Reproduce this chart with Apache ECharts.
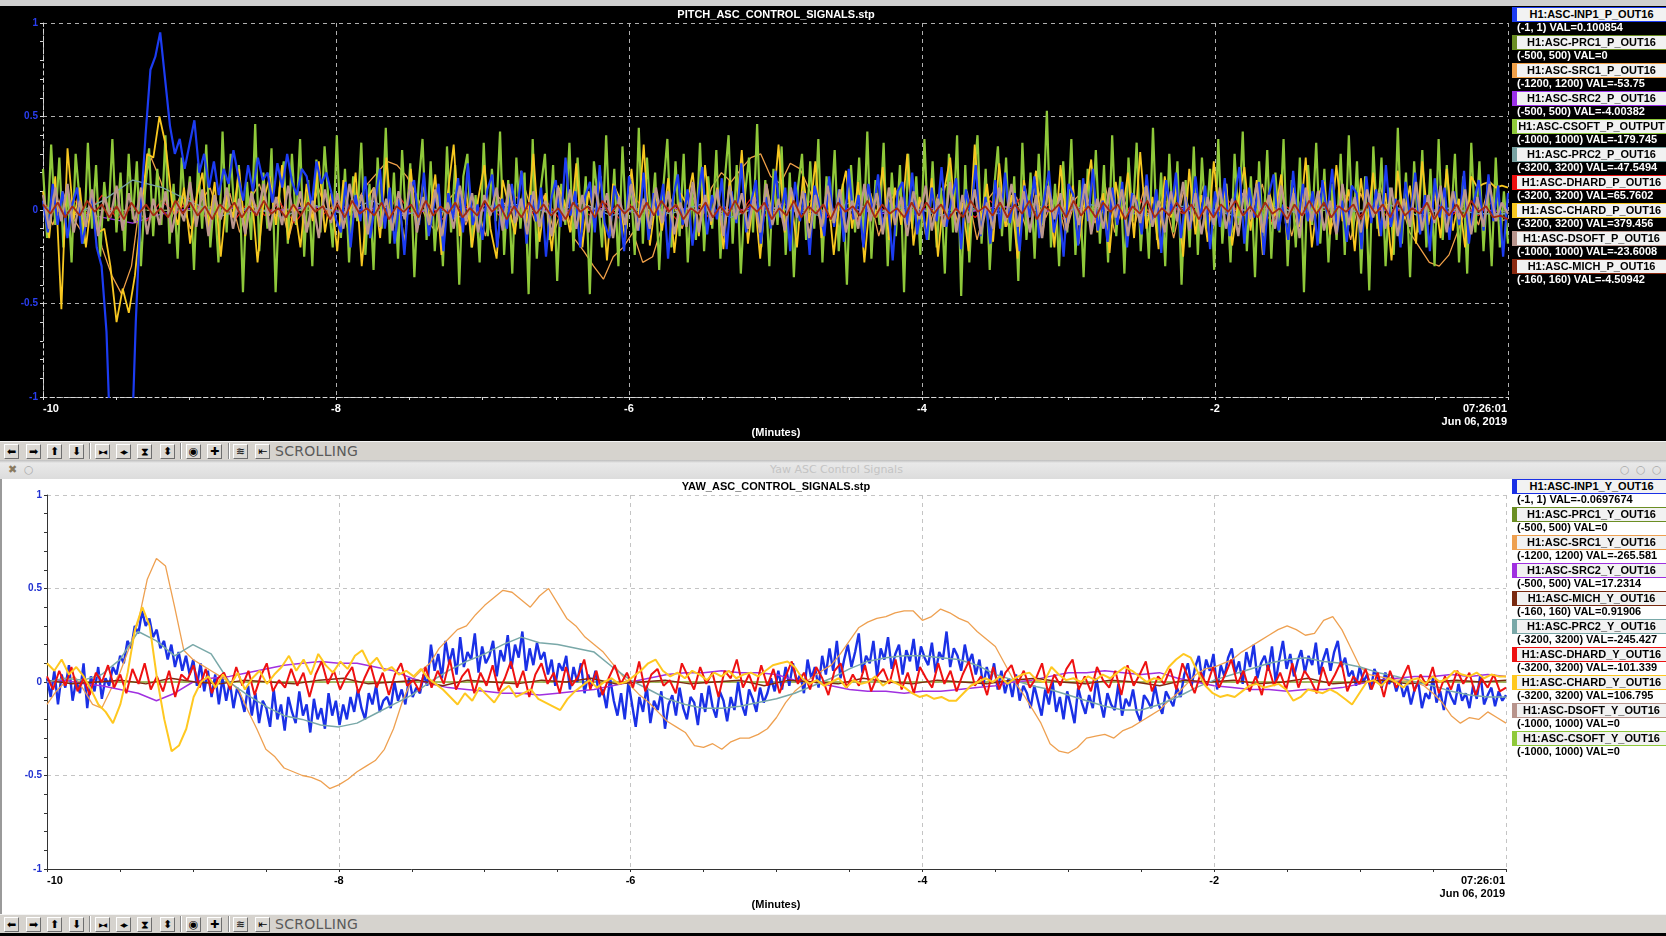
<!DOCTYPE html>
<html lang="en">
<head>
<meta charset="UTF-8">
<title>ASC Control Signals</title>
<script src="https://cdn.jsdelivr.net/npm/echarts@6/dist/echarts.min.js"></script>
<style>
    html, body { margin: 0; padding: 0; width: 1666px; height: 936px; overflow: hidden; background: #000;
        font-family: 'Liberation Sans', Arial, sans-serif; }
    #topStrip { position: absolute; left: 0; top: 0; width: 1666px; height: 6px; background: #cfcfcf; }
    #fig1 { position: absolute; left: 0; top: 6px; width: 1666px; height: 435px; background: #000; }
    #fig2 { position: absolute; left: 0; top: 479px; width: 1666px; height: 435px; background: #fff; }
    #leftEdge { position: absolute; left: 0; top: 479px; width: 2px; height: 435px; background: #9a9a9a; z-index: 5; }
    .toolbar { position: absolute; left: 0; width: 1666px; height: 18px; background: #d6d3ce;
        border-top: 1px solid #f4f4f4; }
    .btn { position: absolute; top: 2px; width: 13px; height: 13px; border: 1px solid; border-color: #fff #6e6e6e #6e6e6e #fff;
        background: #dcd9d4; color: #000; font: 11px/13px 'DejaVu Sans', sans-serif; text-align: center; overflow: hidden; }
    .sep { position: absolute; top: 1px; width: 0; height: 16px; border-left: 1px solid #8a8a8a; border-right: 1px solid #fff; }
    .tbtext { position: absolute; left: 275px; top: 0; font: 14px/18px 'DejaVu Sans', sans-serif; color: #5a5a5a; letter-spacing: 0.3px; }
    #titleBar { position: absolute; left: 0; top: 460px; width: 1666px; height: 19px;
        background: linear-gradient(#bdbdbd 0px, #e9e9e9 3px, #dcdcdc 19px); }
    #titleBar span { position: absolute; top: 2px; font: 11px/15px 'DejaVu Sans', sans-serif; color: #c4c4c4; }
    #bottomStrip { position: absolute; left: 0; top: 933px; width: 1666px; height: 3px; background: #000; }
    .lgBox { position: absolute; left: 1512px; width: 149px; height: 13px; background: #f2f2f2; border: 1px solid;
        border-left-width: 5px; color: #000; font-weight: bold; font-size: 11px; line-height: 13px; text-align: center;
        white-space: nowrap; z-index: 6; }
    .lgVal { position: absolute; left: 1517px; font-weight: bold; font-size: 11px; line-height: 14px; white-space: nowrap; z-index: 6; }
</style>
</head>
<body>
<div id="topStrip"></div>
<div id="fig1"></div>
<div class="toolbar" id="tb1" style="top:441px"></div>
<div id="titleBar">
    <span style="left:8px;color:#8a7a60;font-weight:bold">&#x2716;</span>
    <span style="left:24px;color:#aaa">&#x25CB;</span>
    <span style="left:770px">Yaw ASC Control Signals</span>
    <span style="left:1620px;color:#aaa">&#x25CB;</span>
    <span style="left:1636px;color:#aaa">&#x25CB;</span>
    <span style="left:1652px;color:#aaa">&#x25CB;</span>
</div>
<div id="fig2"></div>
<div id="leftEdge"></div>
<div class="toolbar" id="tb2" style="top:914px"></div>
<div id="bottomStrip"></div>
<script>
    // 读数均为各通道满量程的百分之一 (hundredths of full scale), 均匀采样 -10 .. 0 分钟

    // ---------- PITCH 面板 ----------
    let pitchNames = ['H1:ASC-INP1_P_OUT16', 'H1:ASC-PRC1_P_OUT16', 'H1:ASC-SRC1_P_OUT16', 'H1:ASC-SRC2_P_OUT16',
        'H1:ASC-CSOFT_P_OUTPUT', 'H1:ASC-PRC2_P_OUT16', 'H1:ASC-DHARD_P_OUT16', 'H1:ASC-CHARD_P_OUT16',
        'H1:ASC-DSOFT_P_OUT16', 'H1:ASC-MICH_P_OUT16'];
    let pitchRanges = ['(-1, 1)', '(-500, 500)', '(-1200, 1200)', '(-500, 500)', '(-1000, 1000)',
        '(-3200, 3200)', '(-3200, 3200)', '(-3200, 3200)', '(-1000, 1000)', '(-160, 160)'];
    let pitchReadouts = ['0.100854', '0', '-53.75', '-4.00382', '-179.745', '-47.5494', '65.7602', '379.456', '-23.6008', '-4.50942'];

    let pitchInp1 = [5,-12,14,-8,10,-15,3,12,-18,-5,8,-20,
        -30,-65,-140,-140,-140,-140,-140,-60,0,40,75,82,95,70,45,30,38,22,35,48,
        20,30,12,26,8,22,14,32,18,5,24,10,28,16,20,4,25,12,30,15,8,22,18,2,26,14,20,10,-5,
        -12,15,-20,8,-6,18,-15,4,22,-10,12,-18,6,-24,10,16,-8,20,-14,2,
        14,-22,9,-5,17,-12,25,-8,3,-16,11,19,-20,6,-10,14,-4,21,-18,8,
        -6,12,-25,5,16,-9,28,-3,10,-20,7,15,-12,24,-7,-15,13,2,-22,18,
        5,-11,20,-16,9,-3,14,-26,6,19,-8,11,-19,3,23,-13,8,-5,17,-21,
        10,-7,25,-12,4,16,-18,7,-10,21,-4,12,-22,15,-6,9,-24,13,2,-14,
        18,-9,11,-17,22,-5,8,-20,14,-2,19,-11,6,-27,10,15,-8,20,-13,4,
        -16,12,-6,23,-9,5,17,-21,11,-3,24,-14,7,-18,16,-10,20,-7,9,-22,
        13,-4,18,-15,6,21,-12,3,-25,14,8,-19,17,-6,22,-11,5,-17,12,-8,
        15,-20,9,4,-13,19,-7,11,-23,16,-2,20,-15,7,-10,18,-5,13,-21,10,
        -9,17,-14,6,23,-18,12,-4,15,-24,8,19,-11,3,-16,21,-8,14,-6,10,
        -19,16,-3,22,-12,5,-17,13,9,-21,18,-7,11,-14,24,-9,6,-20,15,-5,
        20,-13,8,-22,17,-4,12,-16,10,-8,21,-18,4,16,-11,19,-6,13,-25,9];
    let pitchPrc1 = [0, 0];
    let pitchSrc1 = [5,-8,10,-4,-12,6,-20,-35,-45,-30,
        10,28,15,-5,8,-10,4,12,-6,9,
        -12,5,14,-3,8,-15,6,-9,12,-4,
        7,-10,5,14,20,26,24,18,8,-5,
        -12,4,10,-8,6,-14,9,3,-10,12,
        -6,8,-12,5,-15,-22,-30,-37,-25,-20,
        -12,-28,-25,-8,6,-10,8,-5,12,20,
        15,22,28,30,18,14,25,22,10,-4,
        6,-10,12,-6,9,-14,4,11,-8,5,
        -12,8,14,-6,10,-16,5,12,-9,7,
        -10,15,-4,9,-13,6,11,-7,14,-12,
        5,-9,12,-4,8,-15,10,-6,13,-10,
        6,-12,9,-5,14,-8,11,-14,7,-6,
        12,-10,5,-16,9,-4,13,-8,6,-12,
        -20,-28,-30,-24,-10,5,-8,12,-6,-5];
    let pitchSrc2 = [1,-1,-4,-7,-2,1,2,-1,0,2,-1,1,-2,0,1,-1,2,-1,0,1,-2,1,0,-1,2,
        0,-1,1,-2,0,1,-1,2,0,-1,1,0,-2,1,-1,0,1,-1,2,-1,0,1,-1,0,-1];
    let pitchCsoft = [22,-15,35,-8,28,-20,12,-28,30,5,-18,36,-10,24,-25,15,-6,38,-12,20,
        -22,30,-5,26,-30,10,33,-14,22,-8,40,-18,14,-26,28,-4,18,-32,25,-10,
        35,-20,8,-28,42,-12,30,-6,24,-44,15,-16,46,-22,20,-10,33,-44,12,26,
        -18,30,-8,38,-25,16,-30,27,-12,34,4,-20,40,-15,22,-28,18,-6,36,-24,
        14,-32,28,-10,44,-18,20,-26,32,-8,25,-36,12,38,-16,26,-22,10,-30,34,
        -12,24,-40,18,30,-20,8,-28,36,-14,22,-6,42,-24,16,-34,28,-10,20,-45,
        38,-26,12,30,-16,24,-38,14,-8,36,-22,28,-12,18,-45,26,6,-20,40,-14,
        22,-30,34,-10,16,-24,44,-18,28,-8,20,-32,12,38,-20,26,-14,30,-28,10,
        -16,36,-22,18,-10,32,-26,14,40,-18,24,-34,8,28,-12,46,-20,16,-30,22,
        -8,34,-24,20,-36,12,30,-16,26,-10,38,-28,18,-6,32,-22,14,-40,24,-12,
        28,-18,42,-26,16,-8,36,-30,20,-14,24,-44,30,-10,18,-24,38,-16,26,-20,
        12,-34,30,-12,40,-46,24,-28,14,40,-18,22,-32,10,34,-14,28,-22,18,-38,
        36,-16,20,-26,30,-8,53,-20,14,-30,26,-12,38,-24,16,-36,22,-10,32,-18,
        24,-28,40,-14,18,-34,28,-6,36,-22,12,-26,44,-16,20,-30,30,-12,26,-40,
        16,-20,34,-24,28,-10,22,-32,38,-18,14,-28,30,-8,42,-22,18,-36,26,-14,
        32,-26,20,-12,38,-30,16,-20,28,-44,24,-8,36,-18,22,-28,14,-16,30,-24,
        40,-14,26,-34,18,-43,34,-10,28,-30,12,-24,44,-18,20,-36,26,-12,32,-20,
        22,-30,38,-16,24,-8,30,-28,18,-34,36,-12,26,-22,14,-30,28,-20,10,-18];
    let pitchPrc2 = [2,-3,5,16,12,4,-3,2,-4,3,-2,5,-3,1,-4,2,3,-2,4,-3,1,-2,3,-4,2,
        0,-3,4,-1,2,-3,1,-2,4,-2,3,-1,-3,2,1,-4,3,-2,2,-1,3,-3,1,-2,-2];
    let pitchDhard = [4,-3,6,-2,8,-5,3,-6,5,-2,7,-4,2,-5,6,-3,4,-7,3,-2,
        5,-4,2,-6,8,-3,4,-5,6,-1,3,-4,7,-2,5,-6,2,-3,4,-5,
        6,-2,3,-7,5,-4,2,-3,8,-5,4,-2,6,-4,3,-6,5,-1,4,-3,
        7,-5,2,-4,5,-3,6,-2,3,-5,4,-6,2,-3,7,-4,5,-2,3,-5,
        6,-3,4,-6,2,-4,5,-2,8,-3,4,-5,3,-2,6,-4,2,-3,5,2];
    let pitchChard = [10,-15,18,-53,33,-5,12,-20,8,-12,
        -10,-30,-60,-42,-55,-35,-2,30,28,50,35,5,-8,
        12,-18,6,20,-10,15,-25,8,-4,22,-14,10,-28,5,18,-8,24,-16,3,-20,
        14,-6,26,-12,9,-22,16,-3,20,-30,7,12,-15,28,-9,4,-18,22,-11,15,
        -6,19,-24,8,35,-14,11,-20,6,24,-10,-26,16,2,-13,21,-7,30,-17,9,
        -22,13,5,-12,25,-20,10,-4,18,-27,14,7,-16,22,-9,35,-19,6,-11,17,
        -23,9,3,20,-14,24,-8,12,-21,16,-5,32,-18,10,-26,14,-3,35,-12,8,
        -20,18,-7,26,-15,11,-24,6,21,-10,15,-28,9,-4,23,-16,12,-8,30,-19,
        7,-13,17,-25,10,28,-11,4,-22,35,-6,14,-17,25,-9,8,-26,16,-2,21,
        -14,11,-20,24,-7,13,-18,6,27,-12,9,-23,15,-5,20,-15,31,-10,7,-21,
        18,-4,12,-25,22,-13,8,-17,26,-8,14,-19,5,23,-11,16,-24,10,-3,19,
        -16,12,-9,28,-20,7,15,-13,24,-6,11,-22,17,-10,20,-14,9,-27,21,-5,
        13,-18,26,-8,10,-15,22,-11,6,-20,18,12,14,15,12,13,12];
    let pitchDsoft = [8,-10,12,-6,14,-12,5,-9,11,-14,7,-4,13,-11,9,-7,12,-13,6,-8,
        10,-12,4,-6,15,-9,11,-14,8,-5,12,-10,6,-13,9,-3,14,-11,7,-8,
        13,-6,10,-12,5,-15,11,-7,9,-10,14,-4,8,-13,12,-9,6,-11,10,-5,
        15,-12,7,-8,11,-14,4,-10,13,-6,9,-12,8,-3,12,-11,14,-7,6,-13,
        10,-9,5,-14,12,-6,11,-10,8,-12,13,-4,9,-15,7,-8,14,-11,6,-10,
        12,-7,10,-13,4,-9,15,-12,8,-6,11,-14,13,-5,9,-10,7,-12,14,-8,
        6,-11,12,-4,10,-15,8,-9,13,-7,11,-12,5,-10,14,-6,9,-13,12,-8,
        7,-14,10,-5,13,-11,6,-9,15,-12,8,-7,11,-13,4,-10,12,-6,14,-9,
        10,-12,8,-15,13,-5,9,-11,7,-8,14,-13,6,-10,12,-4,11,-14,8,-7,
        13,-9,5,-12,10,-6,15,-11,9,-13,7,-8,12,-10,6,-14,11,-5,14,-12,
        8,-10,13,-7,9,-15,12,-6,10,-11,5,-13,14,-8,7,-12,11,-4,9,-10,
        12,-14,6,-9,15,-11,8,-7,13,-12,10,-5,11,-13,7,-9,14,-6,4,-2];
    let pitchMich = [3,-2,4,-4,2,-3,5,-1,3,-4,2,-5,4,-2,3,-3,1,-4,5,-2,
        4,-3,2,-5,3,-1,4,-4,2,-3,5,-2,1,-4,3,-3,4,-1,2,-5,
        3,-4,5,-2,1,-3,4,-5,2,-1,3,-4,5,-3,2,-2,4,-4,1,-3,
        5,-1,3,-5,2,-4,4,-2,3,-3,1,-5,4,-1,2,-4,5,-3,3,-2,
        2,-4,4,-3,5,-1,3,-5,1,-2,4,-4,2,-3,5,-2,3,-1,4,-5,
        1,-3,5,-4,2,-2,3,-5,4,-1,2,-3,5,-4,3,-2,1,-4,4,-3,
        4,-2,3,-5,1,-4,5,-1,2,-3,4,-4,3,-2,5,-5,2,-1,3,-4,
        5,-3,2,-4,4,-1,3,-5,2,-2,5,-4,1,-3,4,-2,3,-5,2,-4,
        3,-1,5,-3,2,-4,4,-2,1,-5,3,-3,5,-2,4,-4,2,-1,3,-5,
        4,-2,3,-4,5,-3,1,-2,4,-5,2,-3,3,-4,5,-1,2,-4,-3,-5];

    // ---------- YAW 面板 ----------
    let yawNames = ['H1:ASC-INP1_Y_OUT16', 'H1:ASC-PRC1_Y_OUT16', 'H1:ASC-SRC1_Y_OUT16', 'H1:ASC-SRC2_Y_OUT16',
        'H1:ASC-MICH_Y_OUT16', 'H1:ASC-PRC2_Y_OUT16', 'H1:ASC-DHARD_Y_OUT16', 'H1:ASC-CHARD_Y_OUT16',
        'H1:ASC-DSOFT_Y_OUT16', 'H1:ASC-CSOFT_Y_OUT16'];
    let yawRanges = ['(-1, 1)', '(-500, 500)', '(-1200, 1200)', '(-500, 500)', '(-160, 160)',
        '(-3200, 3200)', '(-3200, 3200)', '(-3200, 3200)', '(-1000, 1000)', '(-1000, 1000)'];
    let yawReadouts = ['-0.0697674', '0', '-265.581', '17.2314', '0.91906', '-245.427', '-101.339', '106.795', '0', '0'];

    let yawInp1 = [2,-8,6,-12,4,-3,9,-10,1,-6,10,-14,3,-5,8,-9,
        2,-2,8,4,14,10,22,18,30,26,
        38,30,34,24,28,18,22,12,20,8,16,6,14,4,
        12,-2,10,-5,6,-8,4,-12,2,-10,0,-14,-3,-8,-16,-2,
        -18,-6,-22,-10,-14,-24,-4,-20,-12,-26,-8,-16,-22,-5,-18,-12,-27,-9,-20,-14,-25,-6,-18,-10,-23,-12,-20,-8,
        -16,-4,-14,-20,-6,-12,-2,-16,-10,-8,-14,0,-10,-4,-12,2,-8,-3,-6,4,-2,
        20,6,15,2,22,10,18,4,24,8,16,12,26,5,19,10,14,22,3,17,11,25,7,20,13,27,6,18,9,21,12,
        16,4,12,-2,10,6,14,-4,8,0,10,-6,4,-2,6,-8,
        -4,-14,2,-10,-18,-6,-20,0,-12,-24,-8,-16,-2,-22,-10,-15,-5,-25,-12,-7,
        -18,-3,-14,-20,-8,-11,-23,-6,-16,-2,-13,-19,-5,-10,-21,-8,-15,0,-12,-18,-4,-9,-16,-3,-11,-6,2,-5,
        6,-4,8,-2,10,0,4,-6,12,2,8,-3,
        14,4,18,6,22,2,12,20,8,16,26,5,14,10,22,3,18,12,24,7,15,20,4,17,11,23,6,19,13,9,21,5,16,12,27,8,18,14,6,20,10,15,
        4,12,-2,8,0,10,-4,6,-6,2,-8,4,-10,-2,
        -6,-14,-2,-10,-18,-4,-12,0,-16,-8,-20,-5,-13,-22,-3,-11,-17,-7,-14,2,-10,-19,-6,-12,-15,-1,-18,-9,-13,-4,
        -16,-21,-7,-10,-14,-2,-12,-17,-5,-9,-13,-3,-8,
        4,10,-2,8,14,0,12,6,15,-4,9,3,13,18,5,11,-1,16,8,20,2,10,14,6,19,0,12,22,7,15,3,11,17,5,14,9,21,4,12,18,6,16,22,8,13,3,
        6,-2,8,0,4,-4,7,2,-3,5,-1,3,-5,1,
        -8,-2,-12,-4,0,-14,-6,-9,2,-11,-5,-15,-3,-8,-12,-1,-10,-6,-14,-2,-9,4,-12,-7,-3,-13,-5,-10,-7];
    let yawPrc1 = [0, 0];
    let yawSrc1 = [-12,-5,0,3,-4,-12,-14,-4,5,18,32,55,66,62,40,17,12,9,6,3,
        0,-4,-15,-25,-36,-40,-46,-48,-50,-51,-53,-57,-55,-52,-48,-45,-42,-36,-25,-10,
        1,6,10,18,23,28,30,36,41,45,49,48,44,40,46,50,42,34,30,24,
        20,16,10,4,-2,-7,-11,-16,-21,-24,-27,-34,-35,-33,-36,-32,-30,-30,-28,-25,
        -19,-11,-5,-1,3,6,9,15,22,29,32,34,35,37,38,38,33,35,39,37,
        34,32,27,23,19,10,1,-6,-14,-22,-33,-37,-38,-35,-30,-29,-28,-30,-26,-24,
        -21,-18,-15,-10,-6,-1,4,7,8,10,12,16,19,22,25,28,30,28,25,26,
        33,35,28,18,8,4,3,2,1,1,0,-2,-6,-11,-18,-22,-19,-20,-16,-19,-22];
    let yawSrc2 = [0,1,-1,-2,-4,-6,-10,-6,0,2,3,5,7,9,10,11,10,10,8,6,
        2,-1,-3,-4,-5,-6,-6,-7,-6,-5,-4,-2,0,2,4,5,5,6,5,5,
        4,1,0,-2,-4,-5,-5,-6,-5,-5,-4,-3,-2,0,1,3,5,5,6,5,
        4,5,2,0,-2,-3,-4,-4,-5,-4,-4,-3,-1,1,2,3,3,4,3,4,3];
    let yawMich = [1,-1,0,1,-1,2,0,-1,1,0,-1,1,2,-1,0,1,-2,1,0,-1,
        1,0,2,-1,0,1,-1,0,1,-2,1,0,-1,2,0,-1,1,0,-1,1,
        2,0,-1,1,0,-2,1,0,1,-1,0,2,-1,0,1,-1,0,1,0,1];
    let yawPrc2 = [0,2,1,4,12,27,22,14,20,15,0,-7,-13,-18,-20,-23,-24,-22,-17,-12,
        -7,0,6,11,15,20,24,21,20,18,16,8,1,-4,-9,-12,-14,-14,-13,-11,
        -9,-6,-2,2,7,11,13,14,14,13,12,9,4,1,-2,-4,-7,-10,-13,-15,
        -15,-12,-8,-3,1,4,7,10,12,13,11,10,8,5,3,0,-2,-5,-7,-8,-8];
    let yawDhard = [3,-4,6,-2,8,-5,2,-7,5,0,9,-3,4,-6,7,-1,10,-4,3,-5,
        6,-8,4,1,9,-3,7,-6,2,5,-4,8,-2,6,-7,3,10,-5,1,-3,
        7,-2,5,-8,4,11,-1,6,-4,3,8,-6,2,9,-3,5,-7,4,10,-2,
        1,-5,8,-3,6,-1,12,-4,3,7,-6,5,-2,9,-5,2,11,-3,6,-8,
        4,10,-1,5,-6,8,-2,3,12,-4,6,-7,2,9,-1,5,-3,11,-5,4,
        7,-2,1,-6,10,3,-4,8,-1,5,-8,6,2,12,-3,4,-5,9,-2,7,
        -6,3,11,-1,5,-4,8,2,-7,6,10,-3,4,-2,9,-5,3,7,-1,12,
        -4,5,-6,8,2,-3,10,-1,6,-5,4,11,-2,3,-7,8,-4,5,9,-1,
        6,-3,2,10,-6,4,-2,7,12,-4,3,-5,8,1,-3,6,-7,9,-2,4,
        11,-5,3,-1,7,-4,10,2,-6,5,-2,8,-3,4,12,-1,6,-5,3,-7,
        9,-2,5,-4,10,-3,6,1,-6,8,-2,4,11,-5,3,-1,7,-4,5,-8,
        6,-3,2,9,-5,4,-2,8,-6,3,-4,6,-1,5,-7,2,-3,4,-5,-3];
    let yawChard = [10,6,12,4,8,3,
        -4,-12,-16,-22,-12,5,28,40,
        30,2,-20,-37,-34,-25,-8,0,3,
        -3,4,-2,5,-4,2,6,-1,4,
        8,14,6,12,4,15,9,5,11,7,14,17,9,13,6,8,4,
        6,3,7,2,-1,
        -4,-8,-12,-6,-10,-3,-7,-11,-5,-2,-8,-6,-4,-9,-11,-13,-15,-9,-5,
        -2,1,-3,0,2,-1,
        0,3,6,10,12,6,
        3,5,2,6,4,1,5,3,6,2,4,5,3,6,
        9,10,11,8,
        2,-1,1,-2,0,2,-3,1,-1,0,3,-2,1,-1,-3,
        -6,-8,-7,-9,-8,-10,
        -10,-6,-2,0,
        2,0,3,-1,2,4,5,
        1,0,8,4,1,2,0,
        3,1,4,2,5,8,6,3,0,2,1,
        8,12,15,13,5,
        -2,-6,-8,-7,-8,-5,
        -2,-1,-3,-2,-1,-4,-10,-8,
        -4,-5,-6,-4,-6,-9,
        -12,-6,0,
        1,-2,2,0,-3,1,2,-1,3,0,2,
        6,4,3,5,2,4,3,3];
    let yawDsoft = [0, 0];
    let yawCsoft = [0, 0];

    let pitchTraces = [pitchInp1, pitchPrc1, pitchSrc1, pitchSrc2, pitchCsoft, pitchPrc2, pitchDhard, pitchChard, pitchDsoft, pitchMich];
    let yawTraces = [yawInp1, yawPrc1, yawSrc1, yawSrc2, yawMich, yawPrc2, yawDhard, yawChard, yawDsoft, yawCsoft];

    let pitchColors = ['#1c3cf2', '#6b8e23', '#f0a048', '#9b30e8', '#8fc93a', '#79a3a3', '#e81818', '#f8c820', '#bc978d', '#a52a12'];
    let pitchLegendColors = ['#1c3cf2', '#6b8e23', '#f0a048', '#9b30e8', '#8fc93a', '#79a3a3', '#ee1111', '#f8c820', '#b8948c', '#8b2a10'];
    let pitchWidths = [2.2, 1, 1.3, 1.3, 2.2, 1.3, 1.2, 1.8, 2.3, 1.8];
    // 绘制顺序 (先画的在下层)
    let pitchDrawOrder = [1, 2, 3, 6, 4, 5, 7, 0, 8, 9];
    let yawColors = ['#1a30e6', '#6b8e23', '#eea050', '#a030e0', '#7a2a10', '#79a8a8', '#ee1111', '#ffc820', '#b8948c', '#8fc93a'];
    let yawWidths = [2.4, 1, 1.3, 1.5, 1.5, 1.5, 2, 2, 1, 1];
    let yawDrawOrder = [1, 8, 9, 0, 2, 3, 4, 5, 6, 7];

    const FONT = "'Liberation Sans', Arial, sans-serif";

    // 按序号均匀分布到 -10 .. 0 分钟
    function toSeries (vals) {
        let n = vals.length;
        return vals.map((v, i) => [-10 + 10 * i / (n - 1), v / 100]);
    }

    function panelOption (cfg) {
        let series = [];
        for (let i of cfg.order) {
            series.push({
                name: cfg.names[i],
                type: 'line',
                data: toSeries(cfg.traces[i]),
                symbol: 'none',
                clip: true,
                silent: true,
                lineStyle: { width: cfg.widths[i], color: cfg.colors[i] },
                itemStyle: { color: cfg.colors[i] }
            });
        }
        let axisLine = { show: true, onZero: false, lineStyle: { color: cfg.axisColor, type: cfg.axisType, width: 1 } };
        let splitLine = { show: true, lineStyle: { color: cfg.gridColor, type: [4, 4], width: 1 } };
        return {
            animation: false,
            backgroundColor: cfg.bg,
            textStyle: { fontFamily: FONT },
            grid: { left: cfg.left, top: cfg.top, width: cfg.width, height: 374, containLabel: false },
            xAxis: {
                type: 'value', min: -10, max: 0, interval: 2,
                axisLine: axisLine,
                axisTick: { show: true, length: 3, lineStyle: { color: cfg.axisColor } },
                minorTick: { show: true, splitNumber: 4, length: 3, lineStyle: { color: cfg.axisColor } },
                splitLine: splitLine,
                axisLabel: {
                    color: cfg.textColor, fontWeight: 'bold', fontSize: 11, margin: 6, fontFamily: FONT,
                    alignMinLabel: 'left',
                    formatter: (v) => (v === 0 ? '' : String(v))
                }
            },
            yAxis: {
                type: 'value', min: -1, max: 1, interval: 0.5,
                axisLine: axisLine,
                axisTick: { show: true, length: 3, lineStyle: { color: cfg.axisColor } },
                minorTick: { show: true, splitNumber: 5, length: 3, lineStyle: { color: cfg.axisColor } },
                splitLine: splitLine,
                axisLabel: { color: cfg.labelBlue, fontWeight: 'bold', fontSize: 10, margin: 5, fontFamily: FONT }
            },
            graphic: [
                { type: 'text', x: 776, y: cfg.titleY, style: { text: cfg.title, fill: cfg.textColor,
                    font: 'bold 11px ' + FONT, textAlign: 'center', textVerticalAlign: 'middle' } },
                { type: 'text', x: 776, y: cfg.unitY, style: { text: '(Minutes)', fill: cfg.textColor,
                    font: 'bold 11px ' + FONT, textAlign: 'center', textVerticalAlign: 'middle' } },
                { type: 'text', x: cfg.left + cfg.width - 1, y: cfg.stampY, style: { text: '07:26:01', fill: cfg.textColor,
                    font: 'bold 11px ' + FONT, textAlign: 'right', textVerticalAlign: 'middle' } },
                { type: 'text', x: cfg.left + cfg.width - 1, y: cfg.stampY + 13, style: { text: 'Jun 06, 2019', fill: cfg.textColor,
                    font: 'bold 11px ' + FONT, textAlign: 'right', textVerticalAlign: 'middle' } }
            ],
            series: series
        };
    }

    function makeLegend (names, ranges, readouts, colors, top, dark) {
        for (let i = 0; i < names.length; i++) {
            let box = document.createElement('div');
            box.className = 'lgBox';
            box.style.top = (top + 28 * i) + 'px';
            box.style.borderColor = colors[i];
            box.textContent = names[i];
            document.body.appendChild(box);
            let val = document.createElement('div');
            val.className = 'lgVal';
            val.style.top = (top + 28 * i + 13) + 'px';
            val.style.color = dark ? '#fff' : '#000';
            val.textContent = ranges[i] + ' VAL=' + readouts[i];
            document.body.appendChild(val);
        }
    }

    function makeToolbar (el) {
        let btns = [['&#x2B05;', 4], ['&#x27A1;', 26], ['&#x2B06;', 47], ['&#x2B07;', 69],
            ['&#x25B6;&#x25C0;', 95], ['&#x25C0;&#x25B6;', 116], ['&#x29D7;', 137], ['&#x2B0D;', 160],
            ['&#x25C9;', 186], ['&#x271A;', 207], ['&#x224B;', 233], ['&#x21E4;', 255]];
        let html = '';
        for (let b of btns) {
            let small = b[0].length > 9 ? 'font-size:6px;letter-spacing:-1px;' : '';
            html += '<span class="btn" style="left:' + b[1] + 'px;' + small + '">' + b[0] + '</span>';
        }
        for (let s of [89, 180, 228]) {
            html += '<span class="sep" style="left:' + s + 'px"></span>';
        }
        html += '<span class="tbtext">SCROLLING</span>';
        el.innerHTML = html;
    }

    makeToolbar(document.getElementById('tb1'));
    makeToolbar(document.getElementById('tb2'));
    makeLegend(pitchNames, pitchRanges, pitchReadouts, pitchLegendColors, 7, true);
    makeLegend(yawNames, yawRanges, yawReadouts, yawColors, 479, false);

    let fig1 = echarts.init(document.getElementById('fig1'), null, { renderer: 'canvas' });
    fig1.setOption(panelOption({
        names: pitchNames, traces: pitchTraces, colors: pitchColors, widths: pitchWidths, order: pitchDrawOrder,
        bg: '#000', left: 43, top: 17, width: 1465,
        axisColor: '#d8d8d8', axisType: [4, 3], gridColor: '#b0b0b0', textColor: '#fff', labelBlue: '#2a3ef0',
        title: 'PITCH_ASC_CONTROL_SIGNALS.stp', titleY: 9, unitY: 427, stampY: 403
    }));

    let fig2 = echarts.init(document.getElementById('fig2'), null, { renderer: 'canvas' });
    fig2.setOption(panelOption({
        names: yawNames, traces: yawTraces, colors: yawColors, widths: yawWidths, order: yawDrawOrder,
        bg: '#fff', left: 47, top: 16, width: 1459,
        axisColor: '#333', axisType: 'solid', gridColor: '#c4c4c4', textColor: '#000', labelBlue: '#1f2fd0',
        title: 'YAW_ASC_CONTROL_SIGNALS.stp', titleY: 8, unitY: 426, stampY: 402
    }));
</script>
</body>
</html>
